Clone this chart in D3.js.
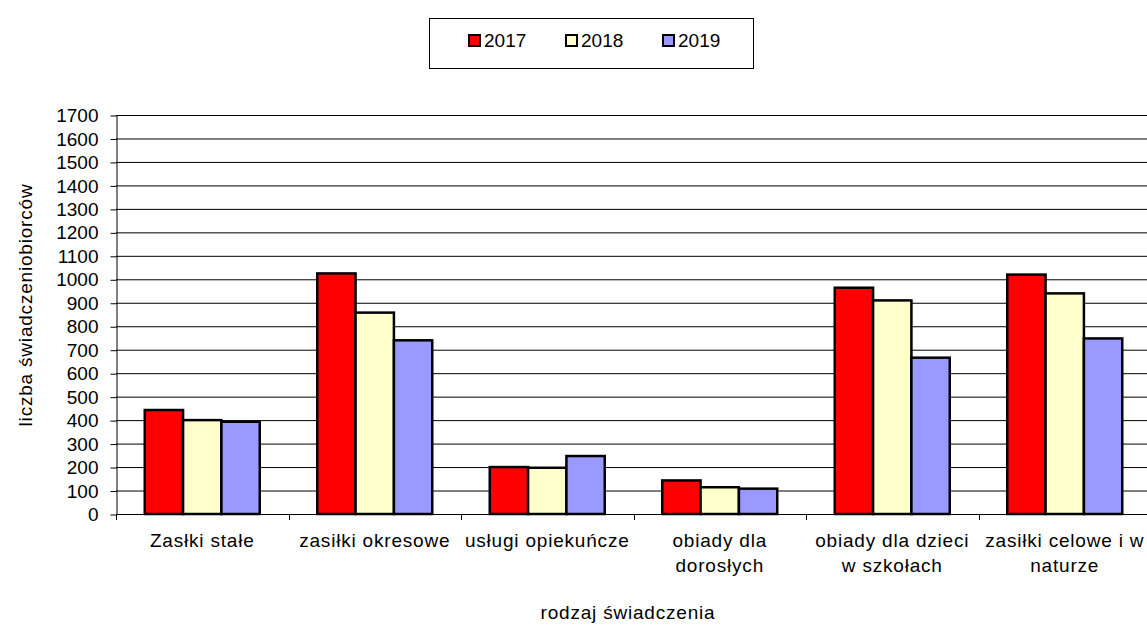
<!DOCTYPE html>
<html>
<head>
<meta charset="utf-8">
<script src="https://cdn.jsdelivr.net/npm/d3@7"></script>
<style>
  body { margin: 0; background: #fff; }
  svg { font-family: "Liberation Sans", Arial, sans-serif; }
  .lbl { letter-spacing: 0.8px; }
</style>
</head>
<body>
<svg id="chart" width="1147" height="627"></svg>
<script>
const categories = [
  "Zasłki stałe",
  "zasiłki okresowe",
  "usługi opiekuńcze",
  "obiady dla\ndorosłych",
  "obiady dla dzieci\nw szkołach",
  "zasiłki celowe i w\nnaturze"
];
const years = ["2017", "2018", "2019"];
const values2017 = [443, 1025, 200, 143, 964, 1020];
const values2018 = [400, 858, 197, 114, 910, 940];
const values2019 = [393, 740, 247, 108, 666, 748];
const yTicks = d3.range(0, 1701, 100);
const colors = ["#FF0000", "#FFFFCC", "#9999FF"];

const series = [values2017, values2018, values2019];
const rows = categories.map((c, i) => ({
  cat: c,
  vals: years.map((yr, j) => ({ year: yr, value: series[j][i] }))
}));

const svg = d3.select("#chart");

const plotLeft = 116, plotRight = 1151, plotTop = 115, plotBottom = 514;

const x0 = d3.scaleBand().domain(categories).range([plotLeft, plotRight]);
const x1 = d3.scaleBand().domain(years).range([0, x0.bandwidth()])
    .paddingInner(0).paddingOuter(0.75);
const y = d3.scaleLinear().domain([0, 1700]).range([plotBottom, plotTop]);
const color = d3.scaleOrdinal().domain(years).range(colors);

// gridlines
svg.append("g")
  .selectAll("line")
  .data(yTicks.filter(d => d > 0))
  .enter()
  .append("line")
  .attr("x1", plotLeft)
  .attr("x2", plotRight)
  .attr("y1", d => y(d) + 0.5)
  .attr("y2", d => y(d) + 0.5)
  .attr("stroke", "#000")
  .attr("stroke-width", 1);

// y axis
const yAxis = svg.append("g")
  .attr("transform", `translate(${plotLeft + 0.5},0.5)`)
  .call(d3.axisLeft(y).tickValues(yTicks).tickFormat(d3.format("d"))
    .tickSize(6).tickPadding(12).tickSizeOuter(0));
yAxis.select(".domain").attr("stroke", "#000");
yAxis.selectAll(".tick line").attr("stroke", "#000");
yAxis.selectAll("text")
  .style("font-size", "19px")
  .attr("fill", "#000");

// bars
const groups = svg.append("g")
  .selectAll("g")
  .data(rows)
  .enter()
  .append("g")
  .attr("transform", d => `translate(${x0(d.cat)},0)`);

groups.selectAll("rect")
  .data(d => d.vals)
  .enter()
  .append("rect")
  .attr("x", d => x1(d.year))
  .attr("y", d => y(d.value))
  .attr("width", x1.bandwidth())
  .attr("height", d => plotBottom - y(d.value))
  .attr("fill", d => color(d.year))
  .attr("stroke", "#000")
  .attr("stroke-width", 2.5);

// x axis
svg.append("line")
  .attr("x1", plotLeft).attr("x2", plotRight)
  .attr("y1", plotBottom + 0.5).attr("y2", plotBottom + 0.5)
  .attr("stroke", "#000");

const bounds = categories.map(c => x0(c)).concat([plotRight]);
svg.append("g")
  .selectAll("line")
  .data(bounds)
  .enter()
  .append("line")
  .attr("x1", d => Math.round(d) + 0.5)
  .attr("x2", d => Math.round(d) + 0.5)
  .attr("y1", plotBottom)
  .attr("y2", plotBottom + 6)
  .attr("stroke", "#000");

// category labels
const catLabels = svg.append("g")
  .selectAll("text")
  .data(categories)
  .enter()
  .append("text")
  .attr("class", "lbl")
  .attr("text-anchor", "middle")
  .style("font-size", "19px")
  .attr("fill", "#000");

catLabels.selectAll("tspan")
  .data(d => d.split("\n").map(t => ({ t, c: d })))
  .enter()
  .append("tspan")
  .attr("x", d => x0(d.c) + x0.bandwidth() / 2)
  .attr("y", (d, i) => 547 + i * 25)
  .text(d => d.t);

// axis titles
svg.append("text")
  .attr("class", "lbl")
  .attr("x", 628)
  .attr("y", 619)
  .attr("text-anchor", "middle")
  .style("font-size", "19px")
  .text("rodzaj świadczenia");

svg.append("text")
  .attr("class", "lbl")
  .attr("transform", "translate(32,305) rotate(-90)")
  .attr("text-anchor", "middle")
  .style("font-size", "19px")
  .text("liczba świadczeniobiorców");

// Legend
const legend = svg.append("g");
legend.append("rect")
  .attr("x", 429.5)
  .attr("y", 18.5)
  .attr("width", 324)
  .attr("height", 50)
  .attr("fill", "#fff")
  .attr("stroke", "#000");

const legendItems = legend.selectAll(".legend-item")
  .data(years)
  .enter()
  .append("g")
  .attr("transform", (_, i) => `translate(${469 + i * 97}, 40)`);

legendItems.append("rect")
  .attr("x", 0)
  .attr("y", -5)
  .attr("width", 11)
  .attr("height", 11)
  .attr("fill", d => color(d))
  .attr("stroke", "#000")
  .attr("stroke-width", 2);

legendItems.append("text")
  .attr("x", 15)
  .attr("y", 7)
  .style("font-size", "19px")
  .text(d => d);
</script>
</body>
</html>
